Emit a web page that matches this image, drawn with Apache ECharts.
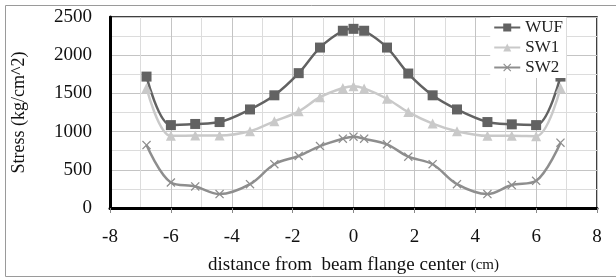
<!DOCTYPE html>
<html>
<head>
<meta charset="utf-8">
<script src="https://cdn.jsdelivr.net/npm/echarts@6/dist/echarts.min.js"></script>
<style>
  html, body { margin: 0; padding: 0; background: #fff; }
  #chart { width: 616px; height: 280px; }
</style>
</head>
<body>
<div id="chart"></div>
<script>
// distance from beam flange center (cm)
var distance = [-6.8, -6, -5.2, -4.4, -3.4, -2.6, -1.8, -1.1, -0.35, 0, 0.35, 1.1, 1.8, 2.6, 3.4, 4.4, 5.2, 6, 6.8];
// stress (kg/cm^2)
var wuf = [1720, 1085, 1100, 1125, 1290, 1475, 1765, 2100, 2320, 2345, 2320, 2100, 1760, 1475, 1290, 1125, 1095, 1085, 1720];
var sw1 = [1570, 945, 950, 950, 1005, 1135, 1265, 1450, 1570, 1595, 1565, 1430, 1255, 1105, 1005, 945, 945, 940, 1570];
var sw2 = [824, 334, 282, 182, 312, 573, 681, 811, 907, 934, 907, 833, 672, 573, 312, 182, 300, 356, 855];

var serif = 'Liberation Serif';
var cross = 'path://M0,1L1,0L5,4L9,0L10,1L6,5L10,9L9,10L5,6L1,10L0,9L4,5Z';

function plain(v) { return String(v); }

function line(name, ys, color, symbol, size) {
  return {
    name: name,
    type: 'line',
    smooth: 0.35,
    symbol: symbol,
    symbolSize: size,
    z: 3,
    lineStyle: { color: color, width: 2.5 },
    itemStyle: { color: color },
    data: distance.map(function(x, i) { return [x, ys[i]]; })
  };
}

var chart = echarts.init(document.getElementById('chart'));

chart.setOption({
  animation: false,
  backgroundColor: '#fff',
  graphic: [{
    type: 'rect',
    shape: { x: 5.5, y: 5.5, width: 620, height: 271 },
    style: { fill: 'transparent', stroke: '#9a9a9a' }
  }],
  grid: {
    left: 110, right: 19, top: 17, bottom: 71,
    show: true,
    backgroundColor: 'transparent',
    borderColor: '#000',
    borderWidth: 1.5
  },
  legend: {
    right: 50, top: 17,
    orient: 'vertical',
    itemGap: 3,
    itemWidth: 26,
    itemHeight: 10,
    backgroundColor: '#fff',
    padding: [2, 3, 2, 3],
    textStyle: { fontFamily: serif, fontSize: 17, color: '#222' },
    data: ['WUF', 'SW1', 'SW2']
  },
  xAxis: {
    type: 'value', min: -8, max: 8, interval: 2,
    axisLine: { show: true, onZero: false, lineStyle: { color: '#000', width: 3 } },
    axisTick: { show: true, length: 5, lineStyle: { color: '#888', width: 1 } },
    minorTick: { show: true, splitNumber: 2, length: 0 },
    axisLabel: { fontFamily: serif, fontSize: 19, color: '#111', margin: 20, formatter: plain },
    splitLine: { show: true, lineStyle: { color: '#c4c4c4', width: 1 } },
    minorSplitLine: { show: true, lineStyle: { color: '#dcdcdc', width: 1 } },
    name: 'distance from  beam flange center {s|(cm)}',
    nameLocation: 'middle',
    nameGap: 48,
    nameTextStyle: {
      fontFamily: serif, fontSize: 19, color: '#111',
      rich: { s: { fontFamily: serif, fontSize: 15, color: '#111' } }
    }
  },
  yAxis: {
    type: 'value', min: 0, max: 2500, interval: 500,
    axisLine: { show: true, onZero: false, lineStyle: { color: '#000', width: 3 } },
    axisTick: { show: false },
    minorTick: { show: true, splitNumber: 2, length: 0 },
    axisLabel: { fontFamily: serif, fontSize: 19, color: '#111', margin: 18, formatter: plain },
    splitLine: { show: true, lineStyle: { color: '#c4c4c4', width: 1 } },
    minorSplitLine: { show: true, lineStyle: { color: '#dcdcdc', width: 1 } },
    name: 'Stress (kg/cm^2)',
    nameLocation: 'middle',
    nameGap: 82,
    nameTextStyle: { fontFamily: serif, fontSize: 18, color: '#111' }
  },
  series: [
    line('WUF', wuf, '#626262', 'rect', 10),
    line('SW1', sw1, '#c9c9c9', 'triangle', 10),
    line('SW2', sw2, '#8e8e8e', cross, 9)
  ]
});
</script>
</body>
</html>
